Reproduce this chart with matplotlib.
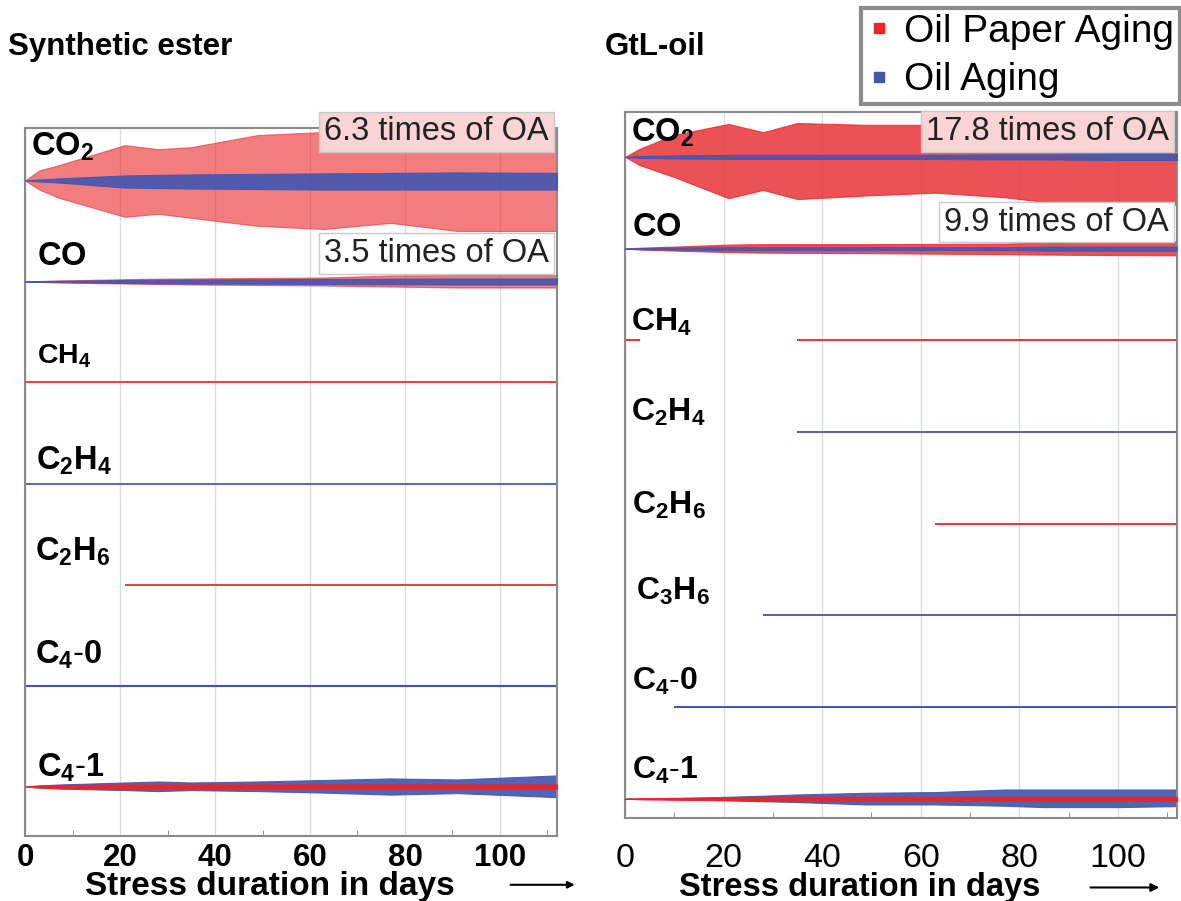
import numpy as np
import matplotlib
matplotlib.use("Agg")
import matplotlib.pyplot as plt
from matplotlib.lines import Line2D
from matplotlib.patches import FancyArrowPatch

plt.rcParams['font.family'] = ['Liberation Sans', 'DejaVu Sans']
plt.rcParams['mathtext.fontset'] = 'custom'
plt.rcParams['mathtext.rm'] = 'Liberation Sans'
plt.rcParams['mathtext.bf'] = 'Liberation Sans:bold'
plt.rcParams['mathtext.it'] = 'Liberation Sans:italic'

nan = np.nan

# ---------------- data (relative band half-widths, % of row spacing) ----------------
# Synthetic ester
se_days = [0, 3, 7, 21, 28, 35, 49, 63, 77, 91, 112]
se_gases = ["CO2", "CO", "CH4", "C2H4", "C2H6", "C4-0", "C4-1"]
se_opa_up = {
    "CO2":  [0, 10, 15, 35, 31, 33, 45, 48, 50, 51, 52],
    "CO":   [0, 0.5, 1, 2.3, 2.8, 3, 3.5, 4, 6, 6.3, 6.3],
    "CH4":  [0.6] * 11,
    "C2H4": [nan] * 11,
    "C2H6": [nan, nan, nan, 0.6, 0.6, 0.6, 0.6, 0.6, 0.6, 0.6, 0.6],
    "C4-0": [nan] * 11,
    "C4-1": [0, 1, 1.5, 2, 2, 2, 2, 2, 2, 2, 2],
}
se_opa_lo = {
    "CO2":  [0, 9, 17, 36, 33, 37, 45, 48, 42, 50, 50],
    "CO":   [0, 0.5, 1, 2, 2.5, 3, 3.5, 4, 5, 6, 6],
    "CH4":  [0.6] * 11,
    "C2H4": [nan] * 11,
    "C2H6": [nan, nan, nan, 0.6, 0.6, 0.6, 0.6, 0.6, 0.6, 0.6, 0.6],
    "C4-0": [nan] * 11,
    "C4-1": [0, 1, 1.5, 2, 2, 2, 2, 2, 2, 2, 2],
}
se_oa_up = {
    "CO2":  [0, 1, 2, 5, 5.5, 6, 6.5, 7, 7.5, 8, 7.5],
    "CO":   [0, 0.3, 0.6, 1.5, 1.8, 2, 2.2, 2.5, 2.8, 3, 3],
    "CH4":  [nan] * 11,
    "C2H4": [0.6] * 11,
    "C2H6": [nan] * 11,
    "C4-0": [0.6, 0.6, 0.6, 0.6, 0.6, 0.7, 0.7, 0.8, 0.9, 1.0, 1.1],
    "C4-1": [0, 1, 2, 4, 5, 4, 5, 6.5, 8, 7, 11],
}
se_oa_lo = {
    "CO2":  [0, 1, 2, 7, 7.5, 8, 8.5, 9, 9, 9, 9],
    "CO":   [0, 0.3, 0.6, 1.5, 1.8, 2, 2.2, 2.5, 2.8, 3, 3],
    "CH4":  [nan] * 11,
    "C2H4": [0.6] * 11,
    "C2H6": [nan] * 11,
    "C4-0": [0.6, 0.6, 0.6, 0.6, 0.6, 0.7, 0.7, 0.8, 0.9, 1.0, 1.1],
    "C4-1": [0, 1, 2, 3.5, 4.5, 3.5, 4.5, 6, 8, 6.5, 10.5],
}

# GtL-oil
gtl_days = [0, 3, 10, 21, 28, 35, 49, 63, 77, 85, 100, 112]
gtl_gases = ["CO2", "CO", "CH4", "C2H4", "C2H6", "C3H6", "C4-0", "C4-1"]
gtl_opa_up = {
    "CO2":  [0, 9, 24, 36, 27, 37, 35, 35, 44, 49, 50, 50],
    "CO":   [0, 1, 2.2, 4.4, 4.9, 4.9, 4.9, 5.1, 5.5, 6.5, 7.6, 8],
    "CH4":  [0.7, 0.7, nan, nan, nan, 0.7, 0.7, 0.7, 0.7, 0.7, 0.7, 0.7],
    "C2H4": [nan] * 12,
    "C2H6": [nan, nan, nan, nan, nan, nan, nan, 0.7, 0.7, 0.7, 0.7, 0.7],
    "C3H6": [nan] * 12,
    "C4-0": [nan] * 12,
    "C4-1": [0, 0.5, 1, 1.6, 2.2, 2.2, 2.2, 2.2, 2.2, 2.2, 2.2, 2.2],
}
gtl_opa_lo = {
    "CO2":  [0, 9, 22, 45, 36, 46, 42, 39, 44, 49, 52, 52],
    "CO":   [0, 1, 2.2, 3.8, 4.4, 4.6, 4.9, 5.5, 6, 6.5, 7.1, 7.3],
    "CH4":  [0.7, 0.7, nan, nan, nan, 0.7, 0.7, 0.7, 0.7, 0.7, 0.7, 0.7],
    "C2H4": [nan] * 12,
    "C2H6": [nan, nan, nan, nan, nan, nan, nan, 0.7, 0.7, 0.7, 0.7, 0.7],
    "C3H6": [nan] * 12,
    "C4-0": [nan] * 12,
    "C4-1": [0, 0.5, 1, 1.6, 2.2, 2.2, 2.2, 2.2, 2.2, 2.2, 2.2, 2.2],
}
gtl_oa_up = {
    "CO2":  [0, 1, 1.6, 2.2, 2.2, 2.2, 2.2, 2.2, 2.7, 2.7, 3.3, 3.3],
    "CO":   [0, 0.5, 1, 1.6, 1.6, 1.6, 1.6, 1.6, 1.6, 2.2, 2.2, 2.2],
    "CH4":  [nan] * 12,
    "C2H4": [nan, nan, nan, nan, nan, 0.7, 0.7, 0.7, 0.7, 0.7, 0.7, 0.7],
    "C2H6": [nan] * 12,
    "C3H6": [nan, nan, nan, nan, 0.7, 0.7, 0.7, 0.7, 0.7, 0.7, 0.7, 0.7],
    "C4-0": [nan, nan, 0.7, 0.7, 0.7, 0.7, 0.7, 0.7, 0.7, 0.8, 0.9, 0.9],
    "C4-1": [0, 0.3, 0.5, 2.2, 3.3, 4.7, 6.5, 7.3, 10.1, 10.1, 10.1, 10.1],
}
gtl_oa_lo = {
    "CO2":  [0, 1, 1.6, 2.2, 2.2, 2.2, 2.2, 2.2, 2.7, 2.7, 3.3, 3.3],
    "CO":   [0, 0.5, 1, 1.6, 1.6, 1.6, 1.6, 1.6, 1.6, 2.2, 2.2, 2.2],
    "CH4":  [nan] * 12,
    "C2H4": [nan, nan, nan, nan, nan, 0.7, 0.7, 0.7, 0.7, 0.7, 0.7, 0.7],
    "C2H6": [nan] * 12,
    "C3H6": [nan, nan, nan, nan, 0.7, 0.7, 0.7, 0.7, 0.7, 0.7, 0.7, 0.7],
    "C4-0": [nan, nan, 0.7, 0.7, 0.7, 0.7, 0.7, 0.7, 0.7, 0.8, 0.9, 0.9],
    "C4-1": [0, 0.3, 0.5, 1.6, 2.7, 3.6, 6.2, 6.2, 7.6, 9.1, 9.1, 8.0],
}

gas_labels = {
    "CO2": r"$\mathbf{CO_2}$", "CO": r"$\mathbf{CO}$", "CH4": r"$\mathbf{CH_4}$",
    "C2H4": r"$\mathbf{C_2H_4}$", "C2H6": r"$\mathbf{C_2H_6}$", "C3H6": r"$\mathbf{C_3H_6}$",
    "C4-0": r"$\mathbf{C_4\text{-}0}$", "C4-1": r"$\mathbf{C_4\text{-}1}$",
}
se_ratios = {"CO2": "6.3 times of OA", "CO": "3.5 times of OA"}
gtl_ratios = {"CO2": "17.8 times of OA", "CO": "9.9 times of OA"}

x_ticks = [0, 20, 40, 60, 80, 100]

RED = '#E8262A'
BLUE = '#4556B0'

fig = plt.figure(figsize=(11.81, 9.01), dpi=100)
ax1 = fig.add_axes([0.0212, 0.0721, 0.4504, 0.7859])
ax2 = fig.add_axes([0.5292, 0.0921, 0.4674, 0.7836])


def draw_panel(ax, days, gases, opa_up, opa_lo, oa_up, oa_lo, red_alpha, top_pad, ymax,
               label_off, label_sizes, label_x, ratios, ratio_off, bold_ticks, ratio_sizes,
               tick_size, tick_pad, xlabel_pos, xlabel_size):
    days = np.array(days, dtype=float)
    for i, g in enumerate(gases):
        series = [(opa_up, opa_lo, RED, red_alpha), (oa_up, oa_lo, BLUE, 0.92)]
        widths = [np.nanmax(np.nan_to_num(np.array(s[0][g], dtype=float))) for s in series]
        for k, (up, lo, col, a) in enumerate(series):
            u_raw = np.array(up[g], dtype=float)
            l_raw = np.array(lo[g], dtype=float)
            if np.all(np.isnan(u_raw)):
                continue
            on_top = widths[k] <= min(widths)
            z = 3 if on_top else 2
            if on_top and col == RED:
                a = 1.0
            thin = np.nanmax(u_raw) < 1.5
            if thin:
                ax.plot(days, np.where(np.isnan(u_raw), nan, i + 0 * u_raw), color=col,
                        lw=0.9 + 0.6 * np.nanmax(u_raw), solid_capstyle='butt', zorder=z)
            else:
                u = u_raw / 100.0
                l = l_raw / 100.0
                ax.fill_between(days, i - u, i + l, facecolor=col, alpha=a,
                                edgecolor=col, linewidth=0.8, zorder=z)
        ax.text(label_x[i], i - label_off[i], gas_labels[g], transform=ax.get_yaxis_transform(),
                fontsize=label_sizes[i], fontweight='bold', ha='left', va='center', zorder=5)
    for j, (g, txt) in enumerate(ratios.items()):
        i = gases.index(g)
        pink = (j == 0)
        ax.text(0.985, i - ratio_off[j], txt, transform=ax.get_yaxis_transform(),
                fontsize=ratio_sizes, ha='right', va='center', zorder=6, clip_on=False,
                color='#222222',
                bbox=dict(boxstyle='square,pad=0.15', facecolor='#FAD4D4' if pink else 'white',
                          edgecolor='#c9c9c9', linewidth=1.0))
    ax.set_xlim(0, 112)
    ax.set_ylim(ymax, -top_pad)
    ax.set_yticks([])
    ax.set_xticks(x_ticks)
    ax.set_xticks(np.arange(10, 112, 20), minor=True)
    ax.grid(axis='x', which='major', color='#dadde2', lw=1.0, zorder=0)
    ax.tick_params(axis='x', which='major', length=0, pad=tick_pad, labelsize=tick_size)
    ax.tick_params(axis='x', which='minor', direction='in', length=4, color='#808080')
    for lab in ax.get_xticklabels():
        lab.set_fontweight('bold' if bold_ticks else 'normal')
    for s in ax.spines.values():
        s.set_color('#8a8a8a')
        s.set_linewidth(1.5)
    ax.set_xlabel("Stress duration in days", fontsize=xlabel_size, fontweight='bold')
    ax.xaxis.set_label_coords(*xlabel_pos)


draw_panel(ax1, se_days, se_gases, se_opa_up, se_opa_lo, se_oa_up, se_oa_lo,
           red_alpha=0.6, top_pad=0.52, ymax=6.49,
           label_off=[0.33, 0.25, 0.26, 0.22, 0.32, 0.30, 0.19],
           label_sizes=[23.5, 23.5, 20.5, 23.5, 23.5, 23.5, 23.5],
           label_x=[0.012, 0.022, 0.022, 0.020, 0.018, 0.018, 0.022],
           ratios=se_ratios, ratio_off=[0.48, 0.28], bold_ticks=True, ratio_sizes=23.5,
           tick_size=22.5, tick_pad=5, xlabel_pos=(0.46, -0.05), xlabel_size=24)
draw_panel(ax2, gtl_days, gtl_gases, gtl_opa_up, gtl_opa_lo, gtl_oa_up, gtl_oa_lo,
           red_alpha=0.8, top_pad=0.49, ymax=7.21,
           label_off=[0.26, 0.23, 0.20, 0.21, 0.20, 0.26, 0.28, 0.31],
           label_sizes=[23.5, 23.5, 23, 23, 23, 23, 23, 23],
           label_x=[0.011, 0.012, 0.011, 0.011, 0.013, 0.020, 0.012, 0.012],
           ratios=gtl_ratios, ratio_off=[0.28, 0.29], bold_ticks=False, ratio_sizes=23.5,
           tick_size=24.5, tick_pad=18, xlabel_pos=(0.426, -0.076), xlabel_size=23.5)

fig.text(0.007, 0.948, "Synthetic ester", fontsize=22.5, fontweight='bold', ha='left', va='center')
fig.text(0.512, 0.948, "GtL-oil", fontsize=22.5, fontweight='bold', ha='left', va='center')

# arrows after axis labels
fig.add_artist(FancyArrowPatch((0.430, 0.018), (0.489, 0.018),
               transform=fig.transFigure, arrowstyle='-|>', mutation_scale=10, lw=1.5, color='black'))
fig.add_artist(FancyArrowPatch((0.921, 0.015), (0.984, 0.015),
               transform=fig.transFigure, arrowstyle='-|>', mutation_scale=12, lw=1.5, color='black'))

handles = [Line2D([], [], marker='s', ls='', color=RED, markersize=7),
           Line2D([], [], marker='s', ls='', color=BLUE, markersize=7)]
leg = fig.legend(handles, ["Oil Paper Aging", "Oil Aging"], loc='upper right',
                 bbox_to_anchor=(0.999, 0.991), fontsize=28, frameon=True, fancybox=False,
                 handlelength=0.6, handletextpad=0.35, borderpad=0.15, labelspacing=0.32,
                 borderaxespad=0)
leg.get_frame().set_edgecolor('#6f6f6f')
leg.get_frame().set_linewidth(3)

fig.savefig("out.png", dpi=100)
